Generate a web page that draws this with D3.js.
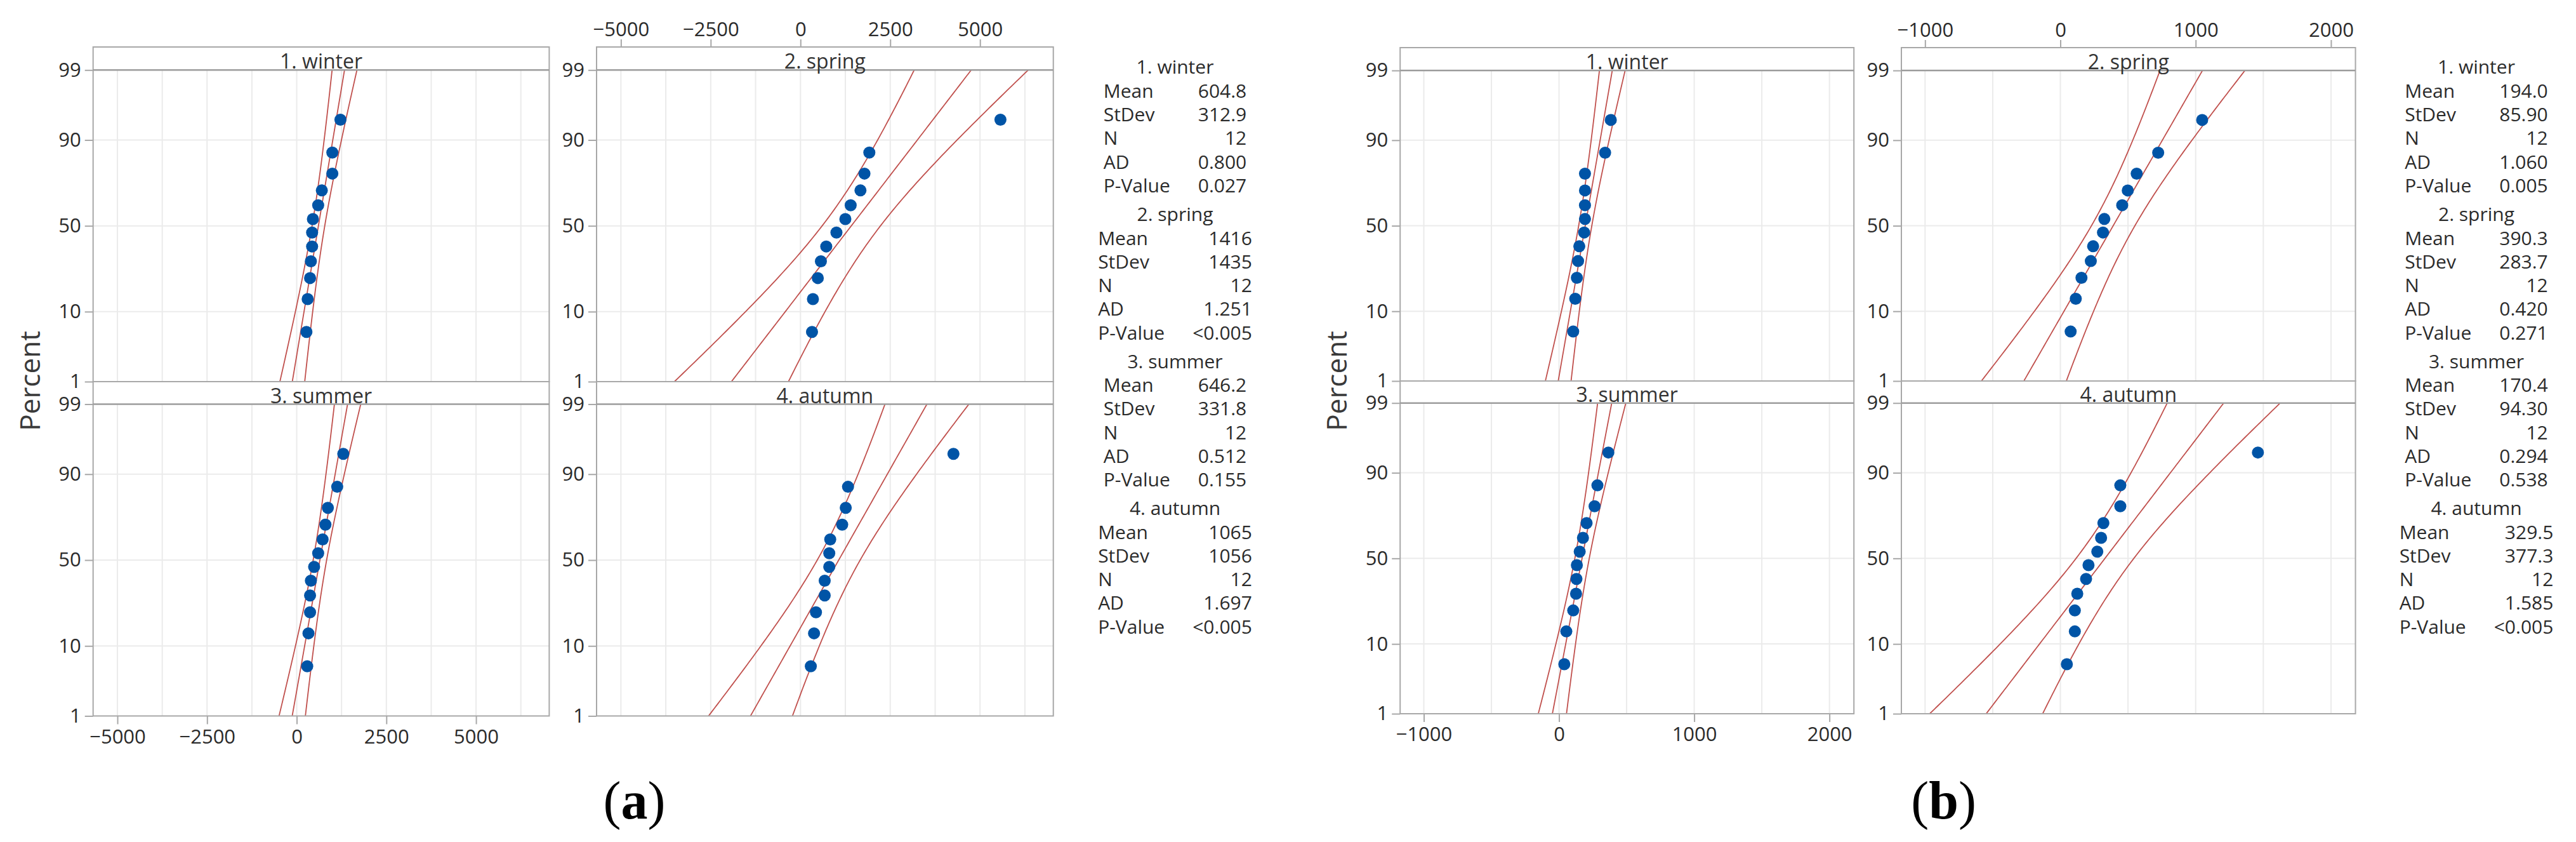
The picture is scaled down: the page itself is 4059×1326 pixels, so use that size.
<!DOCTYPE html>
<html>
<head>
<meta charset="utf-8">
<script src="https://cdn.jsdelivr.net/npm/d3@7"></script>
<style>
  html, body { margin: 0; padding: 0; background: #ffffff; }
  svg { display: block; }
</style>
</head>
<body>
<svg id="chart" width="4059" height="1326"></svg>
<script>
// ---------------- data ----------------
const seasons = ["1. winter", "2. spring", "3. summer", "4. autumn"];
const percentTicks = [1, 10, 50, 90, 99];
const percentGrid = [10, 50, 90];
const statLabels = ["Mean", "StDev", "N", "AD", "P-Value"];

// (a)
const aWinter = [271, 305, 372, 395, 429, 429, 451, 598, 700, 993, 993, 1219];
const aSpring = [322, 347, 483, 569, 718, 1002, 1250, 1398, 1671, 1782, 1918, 5569];
const aSummer = [293, 327, 372, 372, 395, 485, 598, 722, 801, 869, 1129, 1298];
const aAutumn = [288, 378, 432, 675, 675, 802, 802, 829, 1162, 1261, 1324, 4260];
const aMean = [604.8, 1416, 646.2, 1065];
const aStDev = [312.9, 1435, 331.8, 1056];
const aN = [12, 12, 12, 12];
const aMeanText = ["604.8", "1416", "646.2", "1065"];
const aStDevText = ["312.9", "1435", "331.8", "1056"];
const aAD = ["0.800", "1.251", "0.512", "1.697"];
const aPValue = ["0.027", "<0.005", "0.155", "<0.005"];
const aXTicks = [-5000, -2500, 0, 2500, 5000];
const aXGrid = [-5000, -3750, -2500, -1250, 0, 1250, 2500, 3750, 5000, 6250];
const aXDomain = [-5678, 7041];

// (b)
const bWinter = [105, 120, 132, 141, 150, 186, 192, 192, 192, 192, 341, 383];
const bSpring = [76, 114, 156, 225, 242, 315, 325, 457, 498, 564, 723, 1048];
const bSummer = [39, 54, 105, 126, 129, 132, 153, 177, 204, 263, 284, 365];
const bAutumn = [48, 107, 107, 125, 190, 208, 273, 301, 318, 443, 443, 1460];
const bMean = [194.0, 390.3, 170.4, 329.5];
const bStDev = [85.90, 283.7, 94.30, 377.3];
const bN = [12, 12, 12, 12];
const bMeanText = ["194.0", "390.3", "170.4", "329.5"];
const bStDevText = ["85.90", "283.7", "94.30", "377.3"];
const bAD = ["1.060", "0.420", "0.294", "1.585"];
const bPValue = ["0.005", "0.271", "0.538", "<0.005"];
const bXTicks = [-1000, 0, 1000, 2000];
const bXGrid = [-1000, -500, 0, 500, 1000, 1500, 2000];
const bXDomain = [-1175, 2181];

// ---------------- helpers ----------------
function normInv(p) {
  const a = [-3.969683028665376e+01, 2.209460984245205e+02, -2.759285104469687e+02, 1.383577518672690e+02, -3.066479806614716e+01, 2.506628277459239e+00];
  const b = [-5.447609879822406e+01, 1.615858368580409e+02, -1.556989798598866e+02, 6.680131188771972e+01, -1.328068155288572e+01];
  const c = [-7.784894002430293e-03, -3.223964580411365e-01, -2.400758277161838e+00, -2.549732539343734e+00, 4.374664141464968e+00, 2.938163982698783e+00];
  const d = [7.784695709041462e-03, 3.224671290700398e-01, 2.445134137142996e+00, 3.754408661907416e+00];
  const pl = 0.02425, ph = 1 - pl;
  let q, r;
  if (p < pl) {
    q = Math.sqrt(-2 * Math.log(p));
    return (((((c[0]*q+c[1])*q+c[2])*q+c[3])*q+c[4])*q+c[5]) / ((((d[0]*q+d[1])*q+d[2])*q+d[3])*q+1);
  }
  if (p <= ph) {
    q = p - 0.5; r = q * q;
    return (((((a[0]*r+a[1])*r+a[2])*r+a[3])*r+a[4])*r+a[5])*q / (((((b[0]*r+b[1])*r+b[2])*r+b[3])*r+b[4])*r+1);
  }
  q = Math.sqrt(-2 * Math.log(1 - p));
  return -(((((c[0]*q+c[1])*q+c[2])*q+c[3])*q+c[4])*q+c[5]) / ((((d[0]*q+d[1])*q+d[2])*q+d[3])*q+1);
}

const SANS = "'Open Sans', 'Noto Sans', sans-serif";
const GRID = "#ebebeb", BORDER = "#a8a8a8", STRIPLINE = "#9c9c9c";
const RED = "#c0504d", BLUE = "#0054a6", TEXT = "#2b2b2b";
const fmtX = d => (d < 0 ? "\u2212" + Math.abs(d) : String(d));

const svg = d3.select("#chart");
let clipId = 0;

function drawFigure(fig) {
  const g = svg.append("g");
  const zLo = normInv(0.01), zHi = normInv(0.99);

  fig.series.forEach((vals, k) => {
    const col = k % 2, row = Math.floor(k / 2);
    const [x0, x1] = fig.cols[col];
    const stripTop = fig.stripTop[row], plotTop = fig.plotTop[row], plotBottom = fig.plotBottom[row];

    const x = d3.scaleLinear().domain(fig.xDomain).range([x0, x1]);
    const y = d3.scaleLinear().domain([zLo, zHi]).range([plotBottom, plotTop]);
    const yp = p => y(normInv(p / 100));

    const p = g.append("g");
    p.append("rect").attr("x", x0).attr("y", stripTop).attr("width", x1 - x0).attr("height", plotBottom - stripTop)
      .attr("fill", "#fff");
    p.selectAll(null).data(fig.xGrid).join("line")
      .attr("x1", d => x(d)).attr("x2", d => x(d)).attr("y1", plotTop).attr("y2", plotBottom)
      .attr("stroke", GRID).attr("stroke-width", 2);
    p.selectAll(null).data(percentGrid).join("line")
      .attr("x1", x0).attr("x2", x1).attr("y1", d => yp(d)).attr("y2", d => yp(d))
      .attr("stroke", GRID).attr("stroke-width", 2);

    const yAx = d3.axisLeft(y).tickValues(percentTicks.map(v => normInv(v / 100)))
      .tickFormat((d, i) => percentTicks[i]).tickSize(13).tickPadding(6);
    const ya = p.append("g").attr("transform", `translate(${x0},0)`).call(yAx);
    ya.select(".domain").remove();
    ya.selectAll("line").attr("stroke", BORDER).attr("stroke-width", 2);
    ya.selectAll("text").attr("font-family", SANS).attr("font-size", 31).attr("fill", TEXT);

    if (row === 0 && col === 1) {
      const xa = p.append("g").attr("transform", `translate(0,${stripTop})`)
        .call(d3.axisTop(x).tickValues(fig.xTicks).tickFormat(fmtX).tickSize(12).tickPadding(5));
      xa.select(".domain").remove();
      xa.selectAll("line").attr("stroke", BORDER).attr("stroke-width", 2);
      xa.selectAll("text").attr("font-family", SANS).attr("font-size", 31).attr("fill", TEXT);
    }
    if (row === 1 && col === 0) {
      const xa = p.append("g").attr("transform", `translate(0,${plotBottom})`)
        .call(d3.axisBottom(x).tickValues(fig.xTicks).tickFormat(fmtX).tickSize(13).tickPadding(8));
      xa.select(".domain").remove();
      xa.selectAll("line").attr("stroke", BORDER).attr("stroke-width", 2);
      xa.selectAll("text").attr("font-family", SANS).attr("font-size", 31).attr("fill", TEXT);
    }

    const cid = "clip" + (clipId++);
    svg.append("defs").append("clipPath").attr("id", cid)
      .append("rect").attr("x", x0).attr("y", plotTop).attr("width", x1 - x0).attr("height", plotBottom - plotTop);

    const mu = fig.mean[k], sd = fig.sd[k], n = fig.n[k];
    const zs = d3.range(0, 81).map(i => zLo + (zHi - zLo) * i / 80);
    const se = z => 1.96 * sd * Math.sqrt(1 / n + z * z / (2 * n - 1));
    const line = d3.line().x(d => x(d[0])).y(d => y(d[1]));
    const lg = p.append("g").attr("clip-path", `url(#${cid})`);
    [zs.map(z => [mu + sd * z - se(z), z]), zs.map(z => [mu + sd * z, z]), zs.map(z => [mu + sd * z + se(z), z])]
      .forEach(pts => lg.append("path").attr("d", line(pts)).attr("fill", "none")
        .attr("stroke", RED).attr("stroke-width", 1.8));

    const sorted = vals.slice().sort((a, b) => a - b);
    p.selectAll(null).data(sorted).join("circle")
      .attr("cx", d => x(d))
      .attr("cy", (d, i) => y(normInv((i + 1 - 0.3) / (sorted.length + 0.4))))
      .attr("r", 9.5).attr("fill", BLUE);

    p.append("rect").attr("x", x0).attr("y", stripTop).attr("width", x1 - x0).attr("height", plotBottom - stripTop)
      .attr("fill", "none").attr("stroke", BORDER).attr("stroke-width", 2);
    p.append("line").attr("x1", x0).attr("x2", x1).attr("y1", plotTop).attr("y2", plotTop)
      .attr("stroke", STRIPLINE).attr("stroke-width", 2.5);
    p.append("text").attr("x", (x0 + x1) / 2).attr("y", plotTop - 2).attr("text-anchor", "middle")
      .attr("font-family", SANS).attr("font-size", 32).attr("fill", "#333").text(seasons[k]);
  });

  g.append("text")
    .attr("transform", `translate(${fig.cols[0][0] - 84},600) rotate(-90)`)
    .attr("text-anchor", "middle").attr("font-family", SANS).attr("font-size", 44).attr("fill", "#3a3a3a")
    .text("Percent");

  const st = g.append("g").attr("font-family", SANS).attr("font-size", 30).attr("fill", TEXT);
  seasons.forEach((s, k) => {
    const base = 116.3 + 231.6 * k;
    st.append("text").attr("x", fig.statCenter).attr("y", base).attr("text-anchor", "middle").text(s);
    const vals = [fig.meanText[k], fig.sdText[k], String(fig.n[k]), fig.ad[k], fig.pv[k]];
    const labs = statLabels.map((l, j) => st.append("text").attr("y", base + 37.6 + 37.25 * j).text(l));
    const vts = vals.map((v, j) => st.append("text").attr("y", base + 37.6 + 37.25 * j).attr("text-anchor", "end").text(v));
    const lw = d3.max(labs, t => t.node().getComputedTextLength());
    const vw = d3.max(vts, t => t.node().getComputedTextLength());
    const W = lw + 44 + vw;
    labs.forEach(t => t.attr("x", fig.statCenter - W / 2));
    vts.forEach(t => t.attr("x", fig.statCenter + W / 2));
  });

  const lt = g.append("text").attr("x", fig.letterX).attr("y", 1289).attr("text-anchor", "middle")
    .attr("font-family", "'Liberation Serif', 'Times New Roman', serif").attr("font-size", 84).attr("fill", "#000");
  lt.append("tspan").text("(");
  lt.append("tspan").attr("font-weight", "bold").text(fig.letter);
  lt.append("tspan").text(")");
}

drawFigure({
  series: [aWinter, aSpring, aSummer, aAutumn],
  mean: aMean, sd: aStDev, n: aN,
  meanText: aMeanText, sdText: aStDevText, ad: aAD, pv: aPValue,
  xTicks: aXTicks, xGrid: aXGrid, xDomain: aXDomain,
  cols: [[146.7, 865.4], [940, 1659.7]],
  stripTop: [74, 601], plotTop: [110.3, 636.5], plotBottom: [601, 1127.5],
  statCenter: 1851.5, letter: "a", letterX: 999.5
});

drawFigure({
  series: [bWinter, bSpring, bSummer, bAutumn],
  mean: bMean, sd: bStDev, n: bN,
  meanText: bMeanText, sdText: bStDevText, ad: bAD, pv: bPValue,
  xTicks: bXTicks, xGrid: bXGrid, xDomain: bXDomain,
  cols: [[2206.2, 2921.2], [2996, 3711.5]],
  stripTop: [75, 600], plotTop: [111, 634.7], plotBottom: [600, 1124],
  statCenter: 3902, letter: "b", letterX: 3062.6
});
</script>
</body>
</html>
